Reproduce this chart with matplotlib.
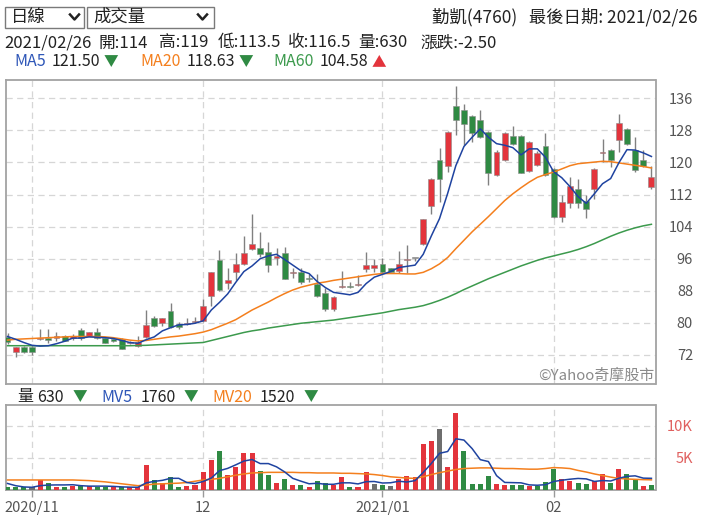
import matplotlib
matplotlib.use('Agg')
import matplotlib.pyplot as plt
from matplotlib.patches import Rectangle
from matplotlib.lines import Line2D
import numpy as np

plt.rcParams['font.family'] = ['Noto Sans CJK TC', 'DejaVu Sans']

# ---------------- data ----------------
opens = [76.5, 72.8, 74.1, 74.1, 75.9, 76.3, 76.1, 76.6, 76.3, 78.2,
         76.8, 77.6, 76.1, 75.9, 75.9, 75.0, 74.2, 76.4, 81.1, 80.0,
         83.0, 79.7, 79.6, 80.1, 80.5, 86.7, 95.8, 90.0, 92.8, 94.6,
         98.4, 98.6, 97.7, 96.1, 97.3, 92.5, 92.8, 91.1, 89.7, 87.4,
         83.4, 89.0, 89.2, 89.4, 93.4, 93.6, 94.6, 93.6, 92.9, 95.7,
         96.2, 99.7, 109.1, 120.6, 119.2, 134.1, 133.2, 131.6, 130.7, 127.7,
         116.9, 120.6, 126.6, 126.6, 118.0, 119.4, 124.1, 118.5, 106.5, 110.0,
         113.3, 110.5, 113.3, 122.3, 123.1, 125.6, 128.3, 123.1, 120.6, 114.0]
highs = [77.5, 74.1, 74.3, 74.2, 78.4, 78.4, 77.6, 77.0, 77.1, 78.6,
         77.8, 78.6, 76.3, 76.0, 76.1, 75.4, 76.6, 83.2, 81.6, 81.3,
         84.9, 80.3, 81.1, 81.4, 85.9, 92.8, 98.2, 93.8, 97.5, 101.7,
         107.1, 102.6, 100.1, 98.6, 99.0, 93.8, 93.8, 92.1, 92.1, 88.8,
         86.8, 93.0, 90.3, 91.9, 97.6, 95.9, 96.1, 93.8, 97.9, 99.3,
         96.2, 105.9, 116.1, 123.5, 127.8, 139.1, 134.7, 131.8, 133.2, 127.8,
         123.0, 127.6, 129.1, 126.8, 125.3, 122.9, 127.3, 118.7, 111.9, 116.5,
         116.0, 111.9, 118.6, 125.9, 123.3, 132.2, 128.6, 126.4, 123.1, 119.0]
lows = [74.8, 71.6, 72.6, 72.0, 75.7, 75.1, 75.6, 75.6, 75.8, 75.8,
        76.6, 75.9, 75.1, 75.3, 73.6, 74.8, 74.0, 76.2, 78.9, 79.3,
        78.8, 78.4, 79.4, 80.0, 80.3, 84.2, 88.0, 88.4, 90.7, 94.4,
        98.2, 96.5, 92.8, 94.4, 90.9, 91.3, 89.7, 90.3, 86.5, 83.0,
        83.0, 88.6, 88.6, 89.3, 92.8, 92.8, 92.5, 92.6, 92.5, 92.4,
        95.4, 99.5, 107.1, 110.2, 117.7, 126.8, 124.4, 125.2, 126.2, 114.4,
        116.7, 120.4, 124.3, 117.3, 117.6, 119.2, 116.7, 106.1, 105.2, 108.6,
        108.7, 106.1, 111.0, 120.2, 118.8, 122.7, 124.4, 117.7, 118.9, 113.5]
closes = [75.2, 73.9, 72.8, 72.8, 76.2, 75.8, 76.6, 75.6, 76.7, 76.1,
          77.6, 76.1, 75.1, 75.5, 73.6, 75.2, 75.3, 79.5, 79.1, 81.1,
          79.0, 78.9, 80.0, 80.4, 84.2, 92.6, 88.2, 90.8, 94.8, 97.5,
          99.6, 97.2, 94.4, 96.8, 90.9, 92.6, 90.3, 90.9, 86.8, 83.4,
          86.4, 89.2, 89.0, 89.8, 94.4, 94.4, 92.7, 92.7, 94.8, 95.8,
          96.2, 105.8, 116.0, 116.0, 127.7, 130.7, 129.6, 127.4, 126.4, 117.5,
          122.7, 127.3, 124.6, 117.5, 125.1, 122.3, 116.9, 106.5, 110.1, 114.1,
          110.0, 108.3, 118.5, 122.5, 120.6, 129.8, 124.6, 118.1, 119.0, 116.5]
prev_close = 75.6  # close of the day before the first candle

volumes_k = [0.45, 0.45, 0.35, 0.35, 1.5, 0.95, 0.45, 0.35, 0.55, 0.75,
             0.55, 0.45, 0.35, 0.35, 0.35, 0.35, 0.35, 3.8, 1.5, 1.1,
             1.9, 0.35, 0.55, 0.75, 2.7, 4.6, 6.1, 2.3, 3.5, 5.7,
             5.8, 2.9, 2.3, 0.95, 1.7, 0.75, 0.75, 0.35, 1.3, 0.95,
             0.75, 1.9, 0.35, 0.45, 2.7, 0.9, 0.75, 0.55, 1.6, 2.1,
             2.0, 7.1, 7.6, 9.6, 3.5, 12.0, 6.1, 0.9, 0.9, 2.1,
             0.9, 0.75, 0.75, 0.75, 0.55, 0.55, 1.2, 3.3, 1.7, 1.3,
             1.1, 0.9, 1.3, 2.4, 0.95, 3.3, 2.4, 1.7, 0.6, 0.63]

ma5 = [76.6, 75.9, 75.1, 74.4, 74.2, 74.3, 74.8, 75.4, 76.2, 76.2,
       76.5, 76.4, 76.3, 76.1, 75.6, 75.1, 74.9, 75.8, 76.5, 78.0,
       78.8, 79.5, 79.6, 79.9, 80.5, 83.2, 85.1, 87.2, 90.1, 92.8,
       94.2, 96.0, 96.7, 97.1, 95.8, 94.4, 93.0, 92.3, 90.3, 88.8,
       87.6, 87.3, 87.0, 87.6, 89.8, 91.4, 92.1, 92.8, 93.8, 94.1,
       94.4, 97.1, 101.7, 106.0, 112.3, 119.2, 124.0, 126.3, 128.4, 126.3,
       124.7, 124.3, 123.7, 121.9, 123.4, 123.4, 121.3, 117.7, 116.2, 114.0,
       111.5, 109.8, 112.2, 114.7, 116.0, 119.9, 123.2, 123.1, 122.4, 121.5]
ma20 = [75.7, 75.9, 76.0, 76.1, 76.2, 76.3, 76.4, 76.5, 76.6, 76.6,
        76.6, 76.6, 76.5, 76.3, 76.0, 75.7, 75.5, 75.6, 75.9, 76.2,
        76.5, 76.7, 77.0, 77.3, 77.7, 78.3, 79.1, 79.9, 80.8, 82.0,
        83.2, 84.2, 85.2, 86.3, 87.3, 88.2, 88.9, 89.4, 89.9, 90.2,
        90.6, 90.9, 91.2, 91.5, 91.8, 92.1, 92.3, 92.3, 92.3, 92.2,
        92.2, 92.6, 93.5, 94.7, 96.3, 98.5, 100.6, 102.7, 104.6, 106.5,
        108.5, 110.5, 112.2, 113.7, 115.1, 116.3, 117.0, 117.6, 118.4, 119.2,
        119.7, 119.9, 120.1, 120.3, 120.2, 119.9, 119.6, 119.3, 119.0, 118.63]
ma60 = [74.3, 74.3, 74.3, 74.3, 74.3, 74.3, 74.3, 74.3, 74.3, 74.3,
        74.3, 74.3, 74.3, 74.3, 74.3, 74.3, 74.35, 74.4, 74.5, 74.6,
        74.7, 74.8, 74.9, 75.0, 75.1, 75.6, 76.1, 76.6, 77.1, 77.6,
        78.0, 78.3, 78.7, 79.0, 79.3, 79.6, 79.9, 80.1, 80.3, 80.5,
        80.7, 81.0, 81.3, 81.6, 81.9, 82.2, 82.5, 82.9, 83.3, 83.6,
        83.9, 84.3, 84.9, 85.6, 86.4, 87.3, 88.3, 89.2, 90.1, 91.0,
        91.8, 92.6, 93.4, 94.2, 94.9, 95.6, 96.2, 96.7, 97.2, 97.7,
        98.3, 99.0, 99.8, 100.7, 101.6, 102.4, 103.1, 103.7, 104.2, 104.58]
mv5 = [0.95, 0.6, 0.4, 0.35, 0.6, 0.7, 0.72, 0.72, 0.75, 0.6,
       0.53, 0.53, 0.53, 0.49, 0.41, 0.37, 0.35, 1.04, 1.28, 1.44,
       1.76, 1.76, 1.1, 0.94, 1.26, 1.8, 2.96, 3.32, 3.88, 4.48,
       4.72, 4.08, 4.08, 3.57, 2.77, 1.75, 1.31, 0.9, 0.98, 0.82,
       0.82, 1.05, 1.05, 0.88, 1.23, 1.26, 1.02, 1.06, 1.3, 1.18,
       1.4, 2.68, 4.1, 5.7, 5.98, 7.98, 7.78, 6.44, 4.7, 4.4,
       2.18, 1.11, 1.08, 1.05, 0.73, 0.67, 0.76, 1.26, 1.46, 1.62,
       1.74, 1.67, 1.27, 1.41, 1.34, 1.77, 2.07, 2.15, 1.79, 1.76]
mv20 = [1.5, 1.5, 1.5, 1.5, 1.5, 1.5, 1.5, 1.5, 1.5, 1.45,
        1.4, 1.3, 1.2, 1.05, 0.9, 0.75, 0.6, 0.7, 0.85, 0.9,
        0.95, 1.0, 1.1, 1.3, 1.5, 1.6, 1.75, 2.0, 2.25, 2.45,
        2.6, 2.65, 2.7, 2.7, 2.7, 2.7, 2.65, 2.65, 2.6, 2.6,
        2.6, 2.55, 2.55, 2.5, 2.45, 2.35, 2.2, 2.0, 1.9, 1.8,
        1.75, 2.0, 2.35, 2.65, 2.9, 3.15, 3.3, 3.35, 3.4, 3.4,
        3.35, 3.3, 3.3, 3.25, 3.2, 3.2, 3.3, 3.45, 3.4, 3.3,
        3.0, 2.75, 2.45, 2.2, 1.95, 1.75, 1.65, 1.6, 1.55, 1.52]

price_ticks = [72, 80, 88, 96, 104, 112, 120, 128, 136]
vol_ticks = [5, 10]
vol_tick_labels = ['5K', '10K']
month_idx = [3, 24, 46, 67]
month_labels = ['2020/11', '12', '2021/01', '02']

# ---------------- style ----------------
RED = '#e3343c'
GREEN = '#2f8a43'
GRAY = '#6e6e6e'
WICK = '#808080'
BLUE_MA = '#1f43a0'
ORANGE_MA = '#f47f1d'
GREEN_MA = '#3c9a4d'
GRID = '#d6d6d6'
FRAME = '#a3a3a3'
TXT = '#222222'
AXTXT = '#555555'

W, H = 701, 524
fig = plt.figure(figsize=(W / 100, H / 100), dpi=100)


def fx(x):
    return x / W


def fy(y):
    return 1 - y / H


L, R = 5.5, 655.5
ax = fig.add_axes([fx(L), fy(384), fx(R) - fx(L), fy(79.5) - fy(384)])
axv = fig.add_axes([fx(L), fy(489.5), fx(R) - fx(L), fy(405) - fy(489.5)])

n = len(closes)
x = np.arange(n)
o = np.array(opens)
c = np.array(closes)
h = np.array(highs)
lo = np.array(lows)

cand_col = np.where(c > o, RED, np.where(c < o, GREEN, GRAY))
ax.vlines(x, lo, h, color=WICK, lw=1.0, zorder=3)
ax.bar(x, np.maximum(np.abs(c - o), 0.2), bottom=np.minimum(o, c), width=0.72,
       color=cand_col, edgecolor='#8c8c8c', linewidth=0.4, zorder=4)
ax.plot(x, ma60, color=GREEN_MA, lw=1.1, zorder=5)
ax.plot(x, ma20, color=ORANGE_MA, lw=1.1, zorder=5)
ax.plot(x, ma5, color=BLUE_MA, lw=1.1, zorder=6)

ax.set_xlim(-0.25, n - 0.5)
ax.set_ylim(64.75, 140.7)
ax.set_yticks(price_ticks)
ax.set_yticklabels([str(t) for t in price_ticks], ha='right')
ax.yaxis.tick_right()
ax.tick_params(axis='y', length=0, pad=27, labelsize=10.5, labelcolor=AXTXT)
ax.set_xticks(month_idx)
ax.tick_params(axis='x', length=0, labelbottom=False)
ax.grid(True, color=GRID, lw=0.9, ls=(0, (5, 3.5)))
ax.set_axisbelow(True)
for s in ax.spines.values():
    s.set_color(FRAME)
    s.set_linewidth(1.3)
ax.text(0.998, 0.003, '©Yahoo奇摩股市', transform=ax.transAxes, ha='right', va='bottom',
        fontsize=10.8, color='#8a8a8a')

# volume
prev = np.concatenate([[prev_close], c[:-1]])
vcol = np.where(c > prev, RED, np.where(c < prev, GREEN, GRAY))
axv.bar(x, volumes_k, width=0.62, color=vcol, zorder=3)
axv.plot(x, mv20, color=ORANGE_MA, lw=1.1, zorder=4)
axv.plot(x, mv5, color=BLUE_MA, lw=1.1, zorder=5)
axv.set_xlim(-0.25, n - 0.5)
axv.set_ylim(0, 13.3)
axv.set_yticks(vol_ticks)
axv.set_yticklabels(vol_tick_labels, ha='right')
axv.yaxis.tick_right()
axv.tick_params(axis='y', length=0, pad=27, labelsize=10.5, labelcolor='#e0605f')
axv.set_xticks(month_idx)
axv.set_xticklabels(month_labels)
axv.tick_params(axis='x', length=5, width=1, color='#9a9a9a', pad=3, labelsize=10.5,
                labelcolor=AXTXT)
axv.grid(True, color=GRID, lw=0.9, ls=(0, (5, 3.5)))
axv.set_axisbelow(True)
for s in axv.spines.values():
    s.set_color(FRAME)
    s.set_linewidth(1.3)

# ---------------- header ----------------
def ftext(px, py, s, **kw):
    kw.setdefault('va', 'center')
    kw.setdefault('ha', 'left')
    kw.setdefault('color', TXT)
    return fig.text(fx(px), fy(py), s, **kw)


def dropdown(x0, x1, label, chev_x):
    fig.patches.append(Rectangle((fx(x0), fy(28)), fx(x1) - fx(x0), fy(7) - fy(28),
                                 transform=fig.transFigure, fill=False,
                                 edgecolor='#7a7a7a', lw=1.0))
    ftext(x0 + 6, 17, label, fontsize=12.5)
    fig.lines.append(Line2D([fx(chev_x), fx(chev_x + 4.5), fx(chev_x + 9)],
                            [fy(14.5), fy(19.5), fy(14.5)],
                            transform=fig.transFigure, color='#222222', lw=1.8))


dropdown(5, 84, '日線', 70)
dropdown(87, 214, '成交量', 198)
ftext(697, 17, '勤凱(4760)   最後日期: 2021/02/26', ha='right', fontsize=12.5)

hs = 12
ftext(4, 43, '2021/02/26', fontsize=hs)
ftext(99, 43, '開:114', fontsize=hs)
ftext(159, 43, '高:119', fontsize=hs)
ftext(218, 43, '低:113.5', fontsize=hs)
ftext(288, 43, '收:116.5', fontsize=hs)
ftext(358, 43, '量:630', fontsize=hs)
ftext(420, 43, '漲跌:-2.50', fontsize=hs)

# MA legend row
fs = 11.5
ftext(14, 62, 'MA5', color='#2f57b8', fontsize=fs)
ftext(52, 62, '121.50', fontsize=fs)
ftext(104, 62, '▼', color=GREEN, fontsize=10.5)
ftext(140, 62, 'MA20', color=ORANGE_MA, fontsize=fs)
ftext(187, 62, '118.63', fontsize=fs)
ftext(239, 62, '▼', color=GREEN, fontsize=10.5)
ftext(273, 62, 'MA60', color=GREEN_MA, fontsize=fs)
ftext(320, 62, '104.58', fontsize=fs)
ftext(372, 62, '▲', color=RED, fontsize=10.5)

# volume legend row
ftext(17, 397, '量', fontsize=fs)
ftext(37, 397, '630', fontsize=fs)
ftext(73, 397, '▼', color=GREEN, fontsize=10.5)
ftext(101, 397, 'MV5', color='#2f57b8', fontsize=fs)
ftext(141, 397, '1760', fontsize=fs)
ftext(184, 397, '▼', color=GREEN, fontsize=10.5)
ftext(212, 397, 'MV20', color=ORANGE_MA, fontsize=fs)
ftext(260, 397, '1520', fontsize=fs)
ftext(304, 397, '▼', color=GREEN, fontsize=10.5)

fig.savefig('out.png', dpi=100)
